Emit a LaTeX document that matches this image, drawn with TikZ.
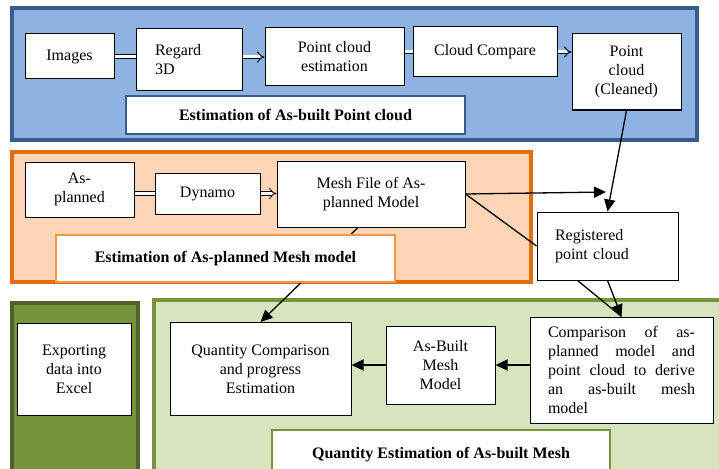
\documentclass[tikz,border=0pt]{standalone}
\usepackage{fontspec}
\setmainfont{Liberation Serif}
\usetikzlibrary{arrows.meta}

\definecolor{blueline}{HTML}{385D8A}
\definecolor{bluefill}{HTML}{8DB3E2}
\definecolor{orangeline}{HTML}{E46C0A}
\definecolor{orangefill}{HTML}{FBD5B5}
\definecolor{orangetitle}{HTML}{F79646}
\definecolor{dgreenline}{HTML}{4F6228}
\definecolor{dgreenfill}{HTML}{77933C}
\definecolor{lgreenfill}{HTML}{D7E4BD}

\tikzset{
	box/.style={draw, fill=white, line width=1pt, align=center, inner sep=2pt},
	panel/.style={draw, line width=3.5pt, inner sep=0pt},
	title/.style={draw, fill=white, line width=2pt, font=\fontsize{16}{19}\selectfont\bfseries},
	dbl/.style={double, double distance=3pt, line width=0.9pt},
	arr/.style={line width=1.3pt, -{Triangle[length=12pt,width=11pt]}},
	ln/.style={line width=1.3pt}
}

\begin{document}
\begin{tikzpicture}[x=1pt, y=-1pt, font=\fontsize{16}{19}\selectfont]
	\clip (0,0) rectangle (719,468);
	\fill[white] (0,0) rectangle (719,468);
	% panels
	\node[panel, draw=blueline, fill=bluefill, minimum width=685, minimum height=132] (bluepanel) at (354.5,74) {};
	\node[panel, draw=orangeline, fill=orangefill, minimum width=519, minimum height=130] (orangepanel) at (271.5,217) {};
	\node[panel, draw=dgreenline, fill=dgreenfill, minimum width=126, minimum height=177] (excelpanel) at (75,391.5) {};
	\node[panel, draw=dgreenfill, fill=lgreenfill, minimum width=576, minimum height=180] (meshpanel) at (442,390) {};
	% as-built point cloud
	\node[box, minimum width=89, minimum height=45] (img) at (69.5,56.5) {Images};
	\node[box, minimum width=106, minimum height=62, text width=68, align=left] (reg3d) at (189,60) {Regard\\3D};
	\node[box, minimum width=139, minimum height=58] (pce) at (334.5,57) {Point cloud\\estimation};
	\node[box, minimum width=144, minimum height=50] (cc) at (485,52) {Cloud Compare};
	\node[box, minimum width=109, minimum height=76] (pcc) at (626.5,72) {Point\\cloud\\(Cleaned)};
	% as-planned mesh
	\node[box, minimum width=109, minimum height=55] (asp) at (79.5,189.5) {As-\\planned};
	\node[box, minimum width=105, minimum height=41] (dyn) at (207.5,193.5) {Dynamo};
	\node[box, minimum width=188, minimum height=66] (mesh) at (371,194) {Mesh File of As-\\planned Model};
	\node[box, minimum width=141, minimum height=68, text width=105, align=left] (reg) at (607.5,246) {Registered\\point cloud};
	% as-built mesh
	\node[box, minimum width=114, minimum height=92] (excel) at (74,369) {Exporting\\data into\\Excel};
	\node[box, minimum width=181, minimum height=93] (qc) at (260.5,369) {Quantity Comparison\\and progress\\Estimation};
	\node[box, minimum width=109, minimum height=78] (ab) at (440.5,365) {As-Built\\Mesh\\Model};
	\node[box, minimum width=183, minimum height=106, text width=147, align=justify] (cmp) at (621.5,370)
	{Comparison of as-\linebreak planned model and\linebreak point cloud to derive\linebreak an as-built mesh\linebreak model};
	% double arrows
	\draw[dbl] (img.east) -- (img.east -| reg3d.west);
	\draw[dbl, -Implies] (reg3d.east |- pce) -- (pce.west);
	\draw[dbl] (pce.east |- cc) -- (cc.west);
	\draw[dbl, -Implies] (cc.east) -- (cc.east -| pcc.west);
	\draw[dbl] (asp.east |- dyn) -- (dyn.west);
	\draw[dbl, -Implies] (dyn.east) -- (dyn.east -| mesh.west);
	% arrows
	\coordinate (meet) at (606,192);
	\draw[arr] (pcc.south) -- (reg.north);
	\draw[arr] (mesh.east) -- (meet);
	\draw[ln] (mesh.east) -- (reg.west);
	\draw[ln] ([xshift=-30]reg.south) -- (cmp.north);
	\draw[arr] (reg.south) -- (cmp.north);
	\draw[arr] ([xshift=-13]mesh.south) -- (qc.north);
	\draw[arr] (cmp.west |- ab) -- (ab.east);
	\draw[arr] (ab.west) -- (ab.west -| qc.east);
	% titles
	\node[title, draw=blueline, minimum width=339, minimum height=38] (bluetitle) at (295.5,115) {Estimation of As-built Point cloud};
	\node[title, draw=orangetitle, minimum width=339, minimum height=47] (orangetitle) at (225.5,258.5) {Estimation of As-planned Mesh model};
	\node[title, draw=dgreenfill, minimum width=338, minimum height=50] (meshtitle) at (441,455) {Quantity Estimation of As-built Mesh};
\end{tikzpicture}
\end{document}
